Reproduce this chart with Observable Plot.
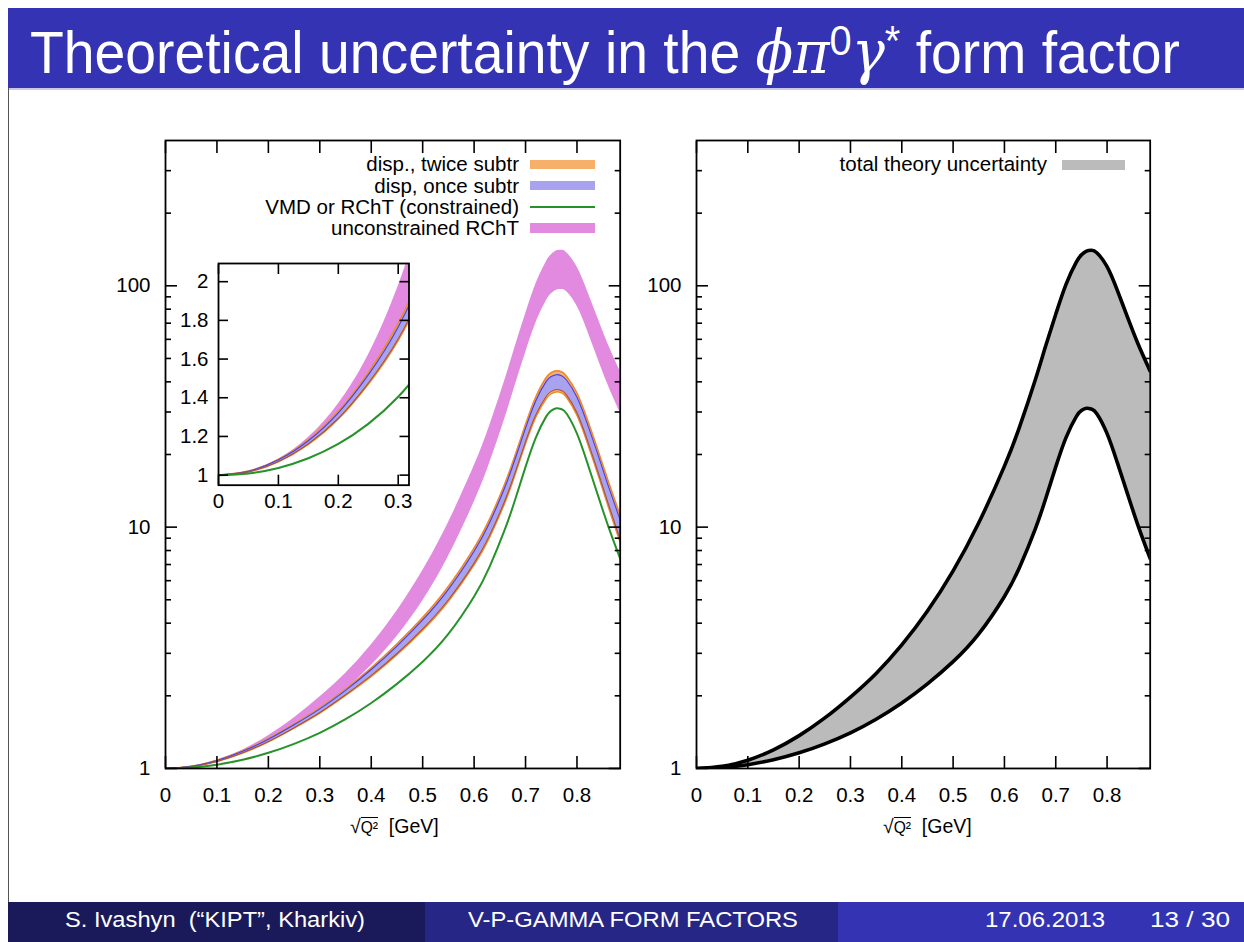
<!DOCTYPE html>
<html><head><meta charset="utf-8">
<script src="https://cdn.jsdelivr.net/npm/d3@7"></script>
<script src="https://cdn.jsdelivr.net/npm/@observablehq/plot@0.6"></script>
<style>
html,body{margin:0;padding:0;background:#fff;}
body{width:1244px;height:942px;overflow:hidden;position:relative;font-family:"Liberation Sans",Arial,Helvetica,sans-serif;}
.abs{position:absolute;}
.txt{position:absolute;white-space:nowrap;line-height:1;}
.m{font-family:"DejaVu Serif",serif;font-style:italic;}
.sup{position:relative;top:-0.42em;font-size:0.72em;}
.leg{position:absolute;white-space:nowrap;font-size:20.5px;line-height:1;text-align:right;}
.sw{position:absolute;}
.xl{position:absolute;white-space:nowrap;font-size:19.5px;line-height:1;}
.ov{border-top:1.3px solid #000;padding-top:1px;font-size:0.8em;}
</style></head><body>
<div class="abs" style="left:8px;top:8px;width:1236px;height:80px;background:#3333b3"></div>
<div class="abs" style="left:8px;top:88px;width:1236px;height:2px;background:#c8c8e6"></div>
<div class="abs" style="left:8px;top:88px;width:1px;height:814px;background:#555"></div>
<div class="txt fit" data-left="30" data-w="1150" style="top:22px;font-size:60px;color:#fff">Theoretical uncertainty in the <span class="m">ϕπ</span><span class="sup">0</span><span class="m">γ</span><span class="sup">*</span> form factor</div>

<div class="abs" style="left:8px;top:902px;width:417px;height:40px;background:#1a1a5a"></div>
<div class="abs" style="left:425px;top:902px;width:413px;height:40px;background:#262686"></div>
<div class="abs" style="left:838px;top:902px;width:406px;height:40px;background:#3333b3"></div>
<div class="txt fit" data-left="65" data-w="300" style="top:909px;font-size:22.5px;color:#fff">S. Ivashyn&nbsp; (“KIPT”, Kharkiv)</div>
<div class="txt fit" data-left="468" data-w="330" style="top:909px;font-size:22.5px;color:#fff">V-P-GAMMA FORM FACTORS</div>
<div class="txt fit" data-left="985" data-w="120" style="top:909px;font-size:22.5px;color:#fff">17.06.2013</div>
<div class="txt fit" data-left="1150" data-w="80" style="top:909px;font-size:22.5px;color:#fff">13 / 30</div>

<div id="left" class="abs" style="left:100.3px;top:130px"></div>
<div id="inset" class="abs" style="left:172.8px;top:257.3px"></div>
<div id="right" class="abs" style="left:631.3px;top:130px"></div>

<div class="leg" style="right:725px;top:154px">disp., twice subtr</div>
<div class="leg" style="right:725px;top:176px">disp, once subtr</div>
<div class="leg" style="right:725px;top:197px">VMD or RChT (constrained)</div>
<div class="leg" style="right:725px;top:218px">unconstrained RChT</div>
<div class="sw" style="left:530px;top:160px;width:65px;height:9px;background:#f7b06a"></div>
<div class="sw" style="left:530px;top:181px;width:65px;height:9px;background:#a9a2ee"></div>
<div class="sw" style="left:530px;top:206px;width:65px;height:2px;background:#27922a"></div>
<div class="sw" style="left:530px;top:223px;width:65px;height:10px;background:#e28ae0"></div>

<div class="leg" style="right:197px;top:154px">total theory uncertainty</div>
<div class="sw" style="left:1062px;top:160px;width:63px;height:10px;background:#bbbbbb"></div>

<div class="xl" style="left:350px;top:817px">√<span class="ov">Q²</span>&nbsp; [GeV]</div>
<div class="xl" style="left:883px;top:817px">√<span class="ov">Q²</span>&nbsp; [GeV]</div>

<script>
// ---- data ----
const q = [0, 0.05, 0.1, 0.15, 0.2, 0.25, 0.3, 0.35, 0.4, 0.45, 0.5, 0.55, 0.6, 0.63, 0.66, 0.68, 0.70, 0.72, 0.74, 0.75, 0.76, 0.77, 0.78, 0.80, 0.82, 0.84, 0.86, 0.884];
const pinkHi = [1, 1.02, 1.082, 1.194, 1.368, 1.62, 1.977, 2.477, 3.25, 4.49, 6.59, 10.42, 17.9, 26.2, 40.7, 56.0, 76.2, 101.4, 125.3, 134.3, 139.3, 140.3, 137, 120, 95.7, 74, 57.7, 44.3];
const pinkLo = [1, 1.017, 1.069, 1.160, 1.300, 1.494, 1.760, 2.123, 2.672, 3.524, 4.940, 7.55, 12.67, 18.33, 28.28, 38.75, 52.73, 69.98, 86.3, 92.5, 95.9, 96.6, 94.4, 82.5, 65.5, 50.3, 39.0, 29.8];
const orangeHi = [1, 1.021, 1.081, 1.183, 1.330, 1.530, 1.784, 2.132, 2.610, 3.276, 4.219, 5.671, 8.186, 10.76, 15.17, 19.90, 26.60, 34.60, 41.58, 43.67, 44.44, 44.0, 42.13, 35.91, 27.97, 21.07, 15.68, 11.21];
const orangeLo = [1, 1.017, 1.069, 1.159, 1.290, 1.470, 1.697, 2.008, 2.410, 2.964, 3.741, 4.929, 6.974, 9.077, 12.67, 16.62, 22.20, 28.60, 34.02, 35.73, 36.36, 36.0, 34.47, 29.09, 22.43, 16.73, 12.32, 8.63];
const blueHi = [1, 1.020, 1.079, 1.178, 1.322, 1.518, 1.766, 2.107, 2.570, 3.214, 4.123, 5.523, 7.944, 10.43, 14.67, 19.25, 25.72, 33.40, 40.07, 42.08, 42.82, 42.4, 40.60, 34.55, 26.86, 20.20, 15.01, 10.69];
const blueLo = [1, 1.017, 1.070, 1.162, 1.294, 1.476, 1.705, 2.020, 2.430, 2.995, 3.789, 5.003, 7.095, 9.245, 12.92, 16.95, 22.64, 29.20, 34.78, 36.52, 37.17, 36.8, 35.24, 29.77, 22.98, 17.16, 12.66, 8.89];
const green = [1, 1.009, 1.037, 1.087, 1.161, 1.265, 1.405, 1.600, 1.868, 2.242, 2.77, 3.61, 5.16, 6.85, 9.81, 13.05, 17.77, 23.5, 28.7, 30.4, 31.1, 30.8, 29.5, 24.4, 18.5, 13.7, 10.2, 7.4];

const xTicks = [0, 0.1, 0.2, 0.3, 0.4, 0.5, 0.6, 0.7, 0.8];
const yMajor = [1, 10, 100];
const yMinor = [2, 3, 4, 5, 6, 7, 8, 9, 20, 30, 40, 50, 60, 70, 80, 90, 200, 300];
const insetXTicks = [0, 0.1, 0.2, 0.3];
const insetYTicks = [1, 1.2, 1.4, 1.6, 1.8, 2];

const rows = q.map((x, i) => ({x, pinkHi: pinkHi[i], pinkLo: pinkLo[i], orangeHi: orangeHi[i], orangeLo: orangeLo[i], blueHi: blueHi[i], blueLo: blueLo[i], green: green[i]}));

const FONT = '"Liberation Sans", Arial, Helvetica, sans-serif';
const curve = "natural";
const C = {pink: "#e28ae0", orange: "#f7b06a", orangeEdge: "#ee8a2a", blue: "#a9a2ee", blueEdge: "#4a3fe0", green: "#27922a", gray: "#bbbbbb"};
const fmtX = d => d === 0 ? "0" : d.toFixed(1);
const blank = () => "";

function axes({xt, yt, ym, fx, fy, major, minor, padX, padY, sw}) {
  const m = [
    Plot.axisX({anchor: "bottom", ticks: xt, tickSize: -major, tickPadding: padX, tickFormat: fx, label: null, strokeWidth: sw}),
    Plot.axisX({anchor: "top", ticks: xt, tickSize: -major, tickFormat: blank, label: null, strokeWidth: sw}),
    Plot.axisY({anchor: "left", ticks: yt, tickSize: -major, tickPadding: padY, tickFormat: fy, label: null, strokeWidth: sw}),
    Plot.axisY({anchor: "right", ticks: yt, tickSize: -major, tickFormat: blank, label: null, strokeWidth: sw})
  ];
  if (ym) {
    m.push(Plot.axisY({anchor: "left", ticks: ym, tickSize: -minor, tickFormat: blank, label: null, strokeWidth: sw}));
    m.push(Plot.axisY({anchor: "right", ticks: ym, tickSize: -minor, tickFormat: blank, label: null, strokeWidth: sw}));
  }
  return m;
}

function bandMarks(clip) {
  return [
    Plot.areaY(rows, {x: "x", y1: "pinkLo", y2: "pinkHi", fill: C.pink, curve, clip}),
    Plot.areaY(rows, {x: "x", y1: "orangeLo", y2: "orangeHi", fill: C.orange, curve, clip}),
    Plot.line(rows, {x: "x", y: "orangeHi", stroke: C.orangeEdge, strokeWidth: 1.6, curve, clip}),
    Plot.line(rows, {x: "x", y: "orangeLo", stroke: C.orangeEdge, strokeWidth: 1.6, curve, clip}),
    Plot.areaY(rows, {x: "x", y1: "blueLo", y2: "blueHi", fill: C.blue, curve, clip}),
    Plot.line(rows, {x: "x", y: "blueHi", stroke: C.blueEdge, strokeWidth: 1.1, curve, clip}),
    Plot.line(rows, {x: "x", y: "blueLo", stroke: "#a0524a", strokeWidth: 1.1, curve, clip}),
    Plot.line(rows, {x: "x", y: "green", stroke: C.green, strokeWidth: 2, curve, clip})
  ];
}

const style = {fontFamily: FONT, fontSize: "20.5px", color: "black", background: "transparent", overflow: "visible"};

const leftPlot = Plot.plot({
  width: 529.7, height: 690, marginLeft: 65, marginRight: 10, marginTop: 10, marginBottom: 52,
  x: {domain: [0, 0.884]}, y: {type: "log", domain: [1, 400]},
  style,
  marks: [
    ...bandMarks(true),
    ...axes({xt: xTicks, yt: yMajor, ym: yMinor, fx: fmtX, fy: d => String(d), major: 12, minor: 6, padX: 31, padY: 27, sw: 1.6}),
    Plot.frame({stroke: "black", strokeWidth: 1.8})
  ]
});
document.getElementById("left").appendChild(leftPlot);

const insetPlot = Plot.plot({
  width: 241.5, height: 262.7, marginLeft: 45, marginRight: 6, marginTop: 6, marginBottom: 35,
  x: {domain: [0, 0.318]}, y: {domain: [0.948, 2.094]},
  style,
  marks: [
    Plot.frame({fill: "white", stroke: null}),
    ...bandMarks(true),
    ...axes({xt: insetXTicks, yt: insetYTicks, ym: null, fx: fmtX, fy: d => String(d), major: 10, minor: 5, padX: 18, padY: 20, sw: 1.6}),
    Plot.frame({stroke: "black", strokeWidth: 1.8})
  ]
});
document.getElementById("inset").appendChild(insetPlot);

const rightPlot = Plot.plot({
  width: 528.7, height: 690, marginLeft: 65, marginRight: 10, marginTop: 10, marginBottom: 52,
  x: {domain: [0, 0.884]}, y: {type: "log", domain: [1, 400]},
  style,
  marks: [
    Plot.areaY(rows, {x: "x", y1: "green", y2: "pinkHi", fill: C.gray, curve, clip: true}),
    Plot.line(rows, {x: "x", y: "pinkHi", stroke: "black", strokeWidth: 3.6, curve, clip: true}),
    Plot.line(rows, {x: "x", y: "green", stroke: "black", strokeWidth: 3.6, curve, clip: true}),
    ...axes({xt: xTicks, yt: yMajor, ym: yMinor, fx: fmtX, fy: d => String(d), major: 12, minor: 6, padX: 31, padY: 27, sw: 1.6}),
    Plot.frame({stroke: "black", strokeWidth: 1.8})
  ]
});
document.getElementById("right").appendChild(rightPlot);

// fit slide texts horizontally to their boxes
document.querySelectorAll(".fit").forEach(el => {
  el.style.left = el.dataset.left + "px";
  el.style.transformOrigin = "0 0";
  const w = el.getBoundingClientRect().width;
  el.style.transform = `scaleX(${(+el.dataset.w) / w})`;
});
</script>
</body></html>
